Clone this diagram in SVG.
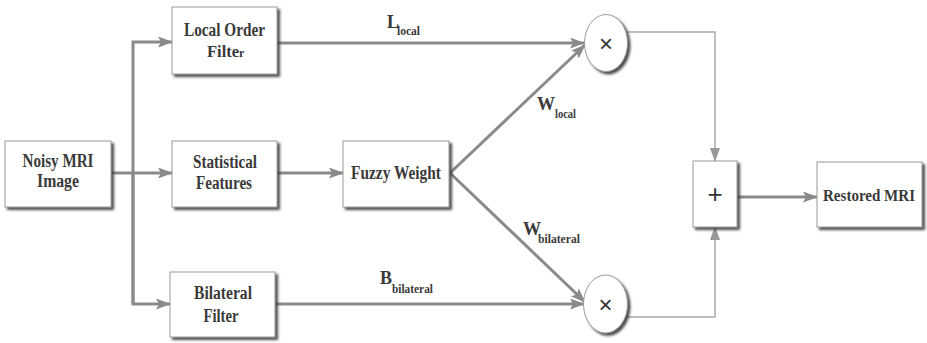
<svg xmlns="http://www.w3.org/2000/svg" width="927" height="343" viewBox="0 0 927 343">
  <defs>
    <filter id="shadow" x="-20%" y="-20%" width="150%" height="150%">
      <feDropShadow dx="2.5" dy="2.5" stdDeviation="1.2" flood-color="#3a3a3a" flood-opacity="0.9"/>
    </filter>
    <marker id="arrow" viewBox="0 0 15 11" refX="14" refY="5.5" markerWidth="15" markerHeight="11" markerUnits="userSpaceOnUse" orient="auto">
      <path d="M0,0 L15,5.5 L0,11 L3,5.5 Z" fill="#8a8a8a"/>
    </marker>
    <marker id="arrowThin" viewBox="0 0 14 10" refX="13" refY="5" markerWidth="14" markerHeight="10" markerUnits="userSpaceOnUse" orient="auto">
      <path d="M0,0 L14,5 L0,10 Z" fill="#999999"/>
    </marker>
  </defs>
  <style>
    .box { fill: #ffffff; stroke: #9a9a9a; stroke-width: 1; filter: url(#shadow); }
    .op { fill: #ffffff; stroke: #9a9a9a; stroke-width: 1; filter: url(#shadow); }
    text { font-family: 'Liberation Serif', 'DejaVu Serif', serif; font-weight: bold; fill: #3a3a3a; }
    .lbl { font-size: 18px; }
    .sub { font-size: 12.5px; }
    .sym { font-family: 'Liberation Sans', 'DejaVu Sans', sans-serif; font-weight: normal; fill: #333333; text-anchor: middle; }
    .thick { fill: none; stroke: #8a8a8a; stroke-width: 3; }
    .thin { fill: none; stroke: #aaaaaa; stroke-width: 1.5; }
  </style>

  <g id="connectors">
    <!-- fan-out from the noisy image -->
    <path class="thick" d="M111,173 L172,173" marker-end="url(#arrow)"/>
    <path class="thick" d="M133,303 L133,42 L172,42" marker-end="url(#arrow)"/>
    <path class="thick" d="M133,173 L133,304 L170,304" marker-end="url(#arrow)"/>
    <!-- feature path -->
    <path class="thick" d="M277,173 L343,173" marker-end="url(#arrow)"/>
    <!-- filter outputs to multipliers -->
    <path class="thick" d="M277,43 L584,43" marker-end="url(#arrow)"/>
    <path class="thick" d="M274,304 L584,304" marker-end="url(#arrow)"/>
    <!-- weights -->
    <path class="thick" d="M450,173 L585,45" marker-end="url(#arrow)"/>
    <path class="thick" d="M450,173 L585,302" marker-end="url(#arrow)"/>
    <!-- products to sum -->
    <path class="thin" d="M627,32 L715,32 L715,161" marker-end="url(#arrowThin)"/>
    <path class="thin" d="M627,317 L715,317 L715,227" marker-end="url(#arrowThin)"/>
    <!-- sum to output -->
    <path class="thick" d="M737,197 L817,197" marker-end="url(#arrow)"/>
  </g>

  <g id="noisy-mri">
    <rect class="box" x="5" y="141" width="106" height="66"/>
    <text class="lbl" x="58" y="167" text-anchor="middle" textLength="71" lengthAdjust="spacingAndGlyphs">Noisy MRI</text>
    <text class="lbl" x="58" y="187" text-anchor="middle" textLength="42" lengthAdjust="spacingAndGlyphs">Image</text>
  </g>

  <g id="local-order-filter">
    <rect class="box" x="172" y="7" width="105" height="67"/>
    <text class="lbl" x="224.5" y="36" text-anchor="middle" textLength="81" lengthAdjust="spacingAndGlyphs">Local Order</text>
    <text x="207" y="57" font-size="16.5">Filte<tspan font-size="12px">r</tspan></text>
  </g>

  <g id="statistical-features">
    <rect class="box" x="172" y="141" width="105" height="66"/>
    <text class="lbl" x="225" y="168" text-anchor="middle" textLength="64" lengthAdjust="spacingAndGlyphs">Statistical</text>
    <text class="lbl" x="224" y="189" text-anchor="middle" textLength="56" lengthAdjust="spacingAndGlyphs">Features</text>
  </g>

  <g id="bilateral-filter">
    <rect class="box" x="170" y="272" width="105" height="65"/>
    <text class="lbl" x="223" y="299" text-anchor="middle" textLength="58" lengthAdjust="spacingAndGlyphs">Bilateral</text>
    <text class="lbl" x="221" y="322" text-anchor="middle" textLength="35" lengthAdjust="spacingAndGlyphs">Filter</text>
  </g>

  <g id="fuzzy-weight">
    <rect class="box" x="343" y="141" width="106" height="66"/>
    <text class="lbl" x="396" y="179" text-anchor="middle" textLength="90" lengthAdjust="spacingAndGlyphs">Fuzzy Weight</text>
  </g>

  <g id="multiply-local">
    <ellipse class="op" cx="606" cy="43" rx="21.5" ry="28.5"/>
    <text class="sym" x="606" y="51.5" font-size="24">×</text>
  </g>

  <g id="multiply-bilateral">
    <ellipse class="op" cx="605.5" cy="304" rx="22" ry="29"/>
    <text class="sym" x="605.5" y="312.5" font-size="24">×</text>
  </g>

  <g id="sum">
    <rect class="op" x="693" y="161" width="44" height="66"/>
    <text class="sym" x="715" y="203" font-size="26">+</text>
  </g>

  <g id="restored-mri">
    <rect class="box" x="817" y="162" width="105" height="65"/>
    <text x="869" y="201" font-size="17" text-anchor="middle" textLength="92" lengthAdjust="spacingAndGlyphs">Restored MRI</text>
  </g>

  <g id="labels">
    <text class="lbl" x="387" y="28">L</text>
    <text class="sub" x="397" y="35" textLength="23" lengthAdjust="spacingAndGlyphs">local</text>
    <text class="lbl" x="537" y="110">W</text>
    <text class="sub" x="555" y="118" textLength="21" lengthAdjust="spacingAndGlyphs">local</text>
    <text class="lbl" x="523" y="235">W</text>
    <text class="sub" x="538" y="243" textLength="42" lengthAdjust="spacingAndGlyphs">bilateral</text>
    <text class="lbl" x="380" y="284">B</text>
    <text class="sub" x="392" y="293" textLength="41" lengthAdjust="spacingAndGlyphs">bilateral</text>
  </g>
</svg>
